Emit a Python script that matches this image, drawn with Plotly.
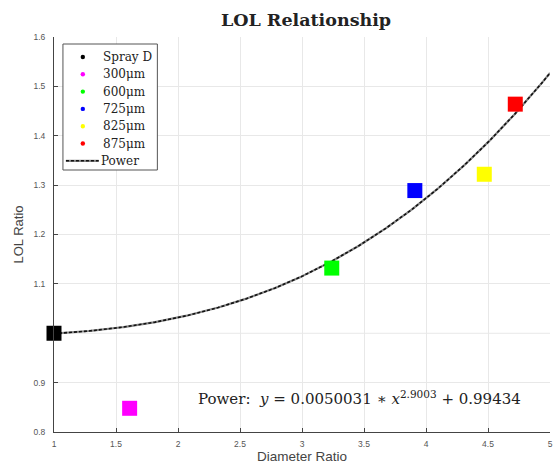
import numpy as np
import plotly.graph_objects as go

# Measured points (diameter ratio vs LOL ratio)
labels = ["Spray D", "300μm", "600μm", "725μm", "825μm", "875μm"]
diameter_ratio = [1.0, 1.61, 3.24, 3.91, 4.47, 4.72]
lol_ratio = [1.0, 0.848, 1.132, 1.289, 1.322, 1.464]
colors = ["#000000", "#ff00ff", "#00ff00", "#0000ff", "#ffff00", "#ff0000"]

# Power-law fit y = a * x^b + c
fit_a, fit_b, fit_c = 0.0050031, 2.9003, 0.99434
fit_label = "Power"
x_tick_vals = [1, 1.5, 2, 2.5, 3, 3.5, 4, 4.5, 5]
x_tick_text = ["1", "1.5", "2", "2.5", "3", "3.5", "4", "4.5", "5"]
y_tick_vals = [0.8, 0.9, 1.1, 1.2, 1.3, 1.4, 1.5, 1.6]
y_tick_text = ["0.8", "0.9", "1.1", "1.2", "1.3", "1.4", "1.5", "1.6"]
y_unlabelled_grid = [1.0]

W, H = 560, 468
ML, MR, MT, MB = 54, 7, 37, 36
PW, PH = W - ML - MR, H - MT - MB


def px(xp):
    """Pixel column -> paper x."""
    return (xp - ML) / PW


def py(yp):
    """Pixel row -> paper y."""
    return (H - MB - yp) / PH


x_fit = np.linspace(1, 5, 300)
y_fit = fit_a * x_fit ** fit_b + fit_c

fig = go.Figure()

# Fitted curve: grey base with black dashes on top
fig.add_trace(go.Scatter(
    x=x_fit, y=y_fit, mode="lines", showlegend=False,
    line=dict(color="#8a8a8a", width=2.2), hoverinfo="skip",
))
fig.add_trace(go.Scatter(
    x=x_fit, y=y_fit, mode="lines", name=fit_label, showlegend=False,
    line=dict(color="#111111", width=1.6, dash="3px,2px"),
))

# Data markers as squares
for name, xv, yv, col in zip(labels, diameter_ratio, lol_ratio, colors):
    fig.add_trace(go.Scatter(
        x=[xv], y=[yv], mode="markers", name=name, showlegend=False,
        marker=dict(symbol="square", size=15, color=col, line=dict(width=0)),
        cliponaxis=False,
    ))

shapes = []
# Grid line with no tick label
for gy in y_unlabelled_grid:
    shapes.append(dict(
        type="line", xref="paper", yref="y", x0=0, x1=1, y0=gy, y1=gy,
        line=dict(color="#e8e8e8", width=1), layer="below",
    ))

# Compact legend box drawn with shapes and annotations
shapes.append(dict(
    type="rect", xref="paper", yref="paper",
    x0=px(63), x1=px(158), y0=py(170), y1=py(44),
    line=dict(color="#555555", width=1), fillcolor="white", layer="above",
))
annotations = []
row_gap = 17.3
entries = labels + [fit_label]
for i, name in enumerate(entries):
    yrow = 57 + row_gap * i
    if i < len(labels):
        shapes.append(dict(
            type="circle", xref="paper", yref="paper",
            xsizemode="pixel", ysizemode="pixel",
            xanchor=px(83), yanchor=py(yrow),
            x0=-2.2, x1=2.2, y0=-2.2, y1=2.2,
            fillcolor=colors[i], line=dict(width=0), layer="above",
        ))
    else:
        shapes.append(dict(
            type="line", xref="paper", yref="paper",
            x0=px(66), x1=px(99), y0=py(yrow), y1=py(yrow),
            line=dict(color="#8a8a8a", width=2.2), layer="above",
        ))
        shapes.append(dict(
            type="line", xref="paper", yref="paper",
            x0=px(66), x1=px(99), y0=py(yrow), y1=py(yrow),
            line=dict(color="#111111", width=1.6, dash="3px,2px"), layer="above",
        ))
    annotations.append(dict(
        x=px(101 if i < len(labels) else 99), y=py(yrow),
        xref="paper", yref="paper", xanchor="left", yanchor="middle",
        text=name, showarrow=False,
        font=dict(family="DejaVu Serif", size=12, color="#222222"),
    ))

annotations.append(dict(
    x=px(197), y=py(398), xref="paper", yref="paper",
    xanchor="left", yanchor="middle",
    text="Power:  <i>y</i> = 0.0050031 ∗ <i>x</i><sup>2.9003</sup> + 0.99434",
    showarrow=False,
    font=dict(family="DejaVu Serif", size=15, color="#222222"),
))

axis_common = dict(
    showgrid=True, gridcolor="#e8e8e8", gridwidth=1,
    showline=True, linecolor="#444444", linewidth=1,
    ticks="inside", ticklen=4, tickcolor="#444444",
    tickfont=dict(family="Liberation Sans", size=8.5, color="#555555"),
    zeroline=False, mirror=False,
)

fig.update_layout(
    width=W, height=H,
    margin=dict(l=ML, r=MR, t=MT, b=MB),
    paper_bgcolor="white", plot_bgcolor="white",
    title=dict(
        text="<b>LOL Relationship</b>", x=306 / W, xanchor="center",
        y=1 - 20 / H, yanchor="middle",
        font=dict(family="DejaVu Serif", size=17.5, color="#222222"),
    ),
    xaxis=dict(
        range=[1, 5], tickvals=x_tick_vals, ticktext=x_tick_text,
        ticklabelstandoff=4,
        title=dict(text="Diameter Ratio", standoff=2,
                   font=dict(family="Liberation Sans", size=13.5, color="#444444")),
        **axis_common,
    ),
    yaxis=dict(
        range=[0.8, 1.6], tickvals=y_tick_vals, ticktext=y_tick_text,
        ticklabelstandoff=6,
        title=dict(text="LOL Ratio", standoff=6,
                   font=dict(family="Liberation Sans", size=13, color="#444444")),
        **axis_common,
    ),
    shapes=shapes,
    annotations=annotations,
    showlegend=False,
)

fig.write_html("out.html")
